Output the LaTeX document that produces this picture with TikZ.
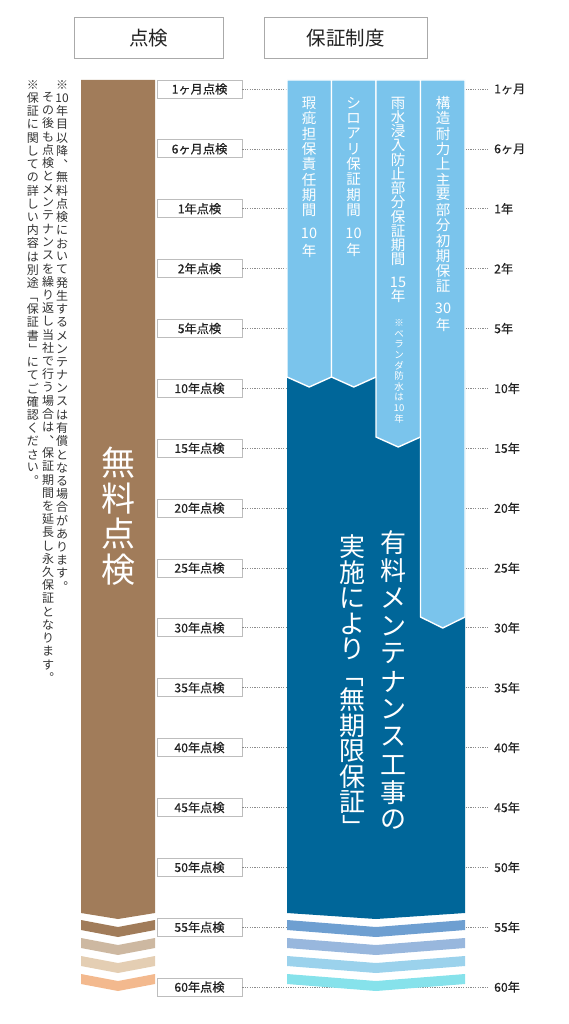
\documentclass[tikz,border=0pt]{standalone}
\usepackage{fontspec}
\usepackage{graphicx}
\setmainfont{Noto Sans CJK JP}
\newfontfamily\jplab[FakeBold=0.4]{Noto Sans CJK JP}
\definecolor{brownA}{HTML}{A17C5A}
\definecolor{brownB}{HTML}{CDB8A1}
\definecolor{brownC}{HTML}{E4CEB3}
\definecolor{brownD}{HTML}{F3B98E}
\definecolor{dblue}{HTML}{006699}
\definecolor{lblue}{HTML}{7AC4EC}
\definecolor{blueA}{HTML}{6E9FD1}
\definecolor{blueB}{HTML}{98B7DD}
\definecolor{blueC}{HTML}{9BD2EC}
\definecolor{blueD}{HTML}{86E2EB}
\definecolor{txt}{HTML}{222222}
\definecolor{notetxt}{HTML}{333333}
\definecolor{hdrgray}{HTML}{AAAAAA}
\definecolor{boxgray}{HTML}{BDBDBD}
\definecolor{dotgray}{HTML}{8C8C8C}
\tikzset{
  hdr/.style={draw=hdrgray, line width=1pt, minimum height=41pt, inner sep=0pt,
    font=\fontsize{19.5}{19.5}\selectfont, text=txt},
  tick/.style={draw=boxgray, line width=0.9pt, fill=white, minimum width=85pt,
    minimum height=18pt, inner sep=0pt, font=\jplab\fontsize{12.2}{12.2}\selectfont, text=txt},
  rlab/.style={anchor=west, inner sep=0pt, font=\jplab\fontsize{12.2}{12.2}\selectfont, text=txt},
  dots/.style={draw=dotgray, line width=0.7pt, dash pattern=on 1.2pt off 1.2pt},
  vch/.style={inner sep=0pt, anchor=center},
  note/.style={font=\fontsize{12}{12}\selectfont, text=notetxt},
  coltxt/.style={font=\fontsize{14.5}{14.5}\selectfont, text=white},
  smalltxt/.style={font=\fontsize{9.5}{9.5}\selectfont, text=white},
  bigtxt/.style={font=\fontsize{34}{34}\selectfont, text=white},
  midtxt/.style={font=\fontsize{26}{26}\selectfont, text=white},
  lcol/.style={fill=lblue, draw=white, line width=1.4pt, line join=round},
}
\newcommand\vob{\rotatebox[origin=c]{-90}{「}}
\newcommand\vcb{\rotatebox[origin=c]{-90}{」}}
\newcommand\vcol[6]{\foreach \ch [count=\k from 0] in {#6} {\node[vch,#5] (#1\k) at (#2,{#3+\k*#4}) {\ch};}}
\newcommand\chev[4]{\fill[#4] (#1,#3) -- ({(#1+#2)/2},{#3+7}) -- (#2,#3) -- (#2,{#3+10}) -- ({(#1+#2)/2},{#3+17}) -- (#1,{#3+10}) -- cycle;}
\begin{document}
\begin{tikzpicture}[x=1pt,y=-1pt]
\useasboundingbox (0,0) rectangle (569,1024);
% headers
\node[hdr, minimum width=149pt] (hA) at (148.5,38.5) {点検};
\node[hdr, minimum width=163pt] (hB) at (345.5,38.5) {保証制度};
% tick labels and dotted leaders
\foreach \l/\r [count=\i from 0] in {1ヶ月点検/1ヶ月,6ヶ月点検/6ヶ月,1年点検/1年,2年点検/2年,5年点検/5年,10年点検/10年,15年点検/15年,20年点検/20年,25年点検/25年,30年点検/30年,35年点検/35年,40年点検/40年,45年点検/45年,50年点検/50年,55年点検/55年,60年点検/60年} {
  \node[tick] (L\i) at (199.5,{89+\i*59.87}) {\l};
  \node[rlab] (R\i) at (494,{89+\i*59.87}) {\r};
  \draw[dots] (L\i.east) -- ([xshift=-6pt]R\i.west);
}
% brown column
\fill[brownA] (81,80) -- (155,80) -- (155,913) -- (118,919) -- (81,913) -- cycle;
\chev{81}{155}{920}{brownA}
\chev{81}{155}{938}{brownB}
\chev{81}{155}{956}{brownC}
\chev{81}{155}{974}{brownD}
% dark blue column
\fill[dblue] (287,370) -- (465,370) -- (465,913) -- (376,919) -- (287,913) -- cycle;
\chev{287}{465}{920}{blueA}
\chev{287}{465}{938}{blueB}
\chev{287}{465}{956}{blueC}
\chev{287}{465}{974}{blueD}
% light blue warranty columns
\filldraw[lcol] (287,80) -- (331.5,80) -- (331.5,377) -- (309.25,387) -- (287,377) -- cycle;
\filldraw[lcol] (331.5,80) -- (376,80) -- (376,377) -- (353.75,387) -- (331.5,377) -- cycle;
\filldraw[lcol] (376,80) -- (420.5,80) -- (420.5,437) -- (398.25,447) -- (376,437) -- cycle;
\filldraw[lcol] (420.5,80) -- (465,80) -- (465,617) -- (442.75,628) -- (420.5,617) -- cycle;
% column texts
\vcol{ca}{309}{103}{15.3}{coltxt}{瑕,疵,担,保,責,任,期,間}
\vcol{cb}{309}{233}{18}{coltxt}{10,年}
\vcol{cc}{353.5}{103}{15.3}{coltxt}{シ,ロ,ア,リ,保,証,期,間}
\vcol{cd}{353.5}{233}{17}{coltxt}{10,年}
\vcol{ce}{398}{103}{14.2}{coltxt}{雨,水,浸,入,防,止,部,分,保,証,期,間}
\vcol{cf}{398}{282}{14}{coltxt}{15,年}
\vcol{cg}{399}{323}{10.6}{smalltxt}{※,ベ,ラ,ン,ダ,防,水,は,10,年}
\vcol{ch}{443}{103}{15.3}{coltxt}{構,造,耐,力,上,主,要,部,分,初,期,保,証}
\vcol{ci}{443}{308}{17}{coltxt}{30,年}
% big texts
\vcol{ba}{118}{463}{35.5}{bigtxt}{無,料,点,検}
\vcol{ma}{393}{543}{27.7}{midtxt}{有,料,メ,ン,テ,ナ,ン,ス,工,事,の}
\vcol{mb}{352}{547}{25.5}{midtxt}{実,施,に,よ,り,\vob,無,期,限,保,証,\vcb}
% notes
\vcol{na}{62}{85}{13.2}{note}{※,10,年,目,以,降,︑,無,料,点,検,に,お,い,て,発,生,す,る,メ,ン,テ,ナ,ン,ス,は,有,償,と,な,る,場,合,が,あ,り,ま,す,︒}
\vcol{nb}{48}{97}{13.2}{note}{そ,の,後,も,点,検,と,メ,ン,テ,ナ,ン,ス,を,繰,り,返,し,当,社,で,行,う,場,合,は,︑,保,証,期,間,を,延,長,し,永,久,保,証,と,な,り,ま,す,︒}
\vcol{nc}{33}{85}{13.2}{note}{※,保,証,に,関,し,て,の,詳,し,い,内,容,は,別,途,\vob,保,証,書,\vcb,に,て,ご,確,認,く,だ,さ,い,︒}
\end{tikzpicture}
\end{document}
